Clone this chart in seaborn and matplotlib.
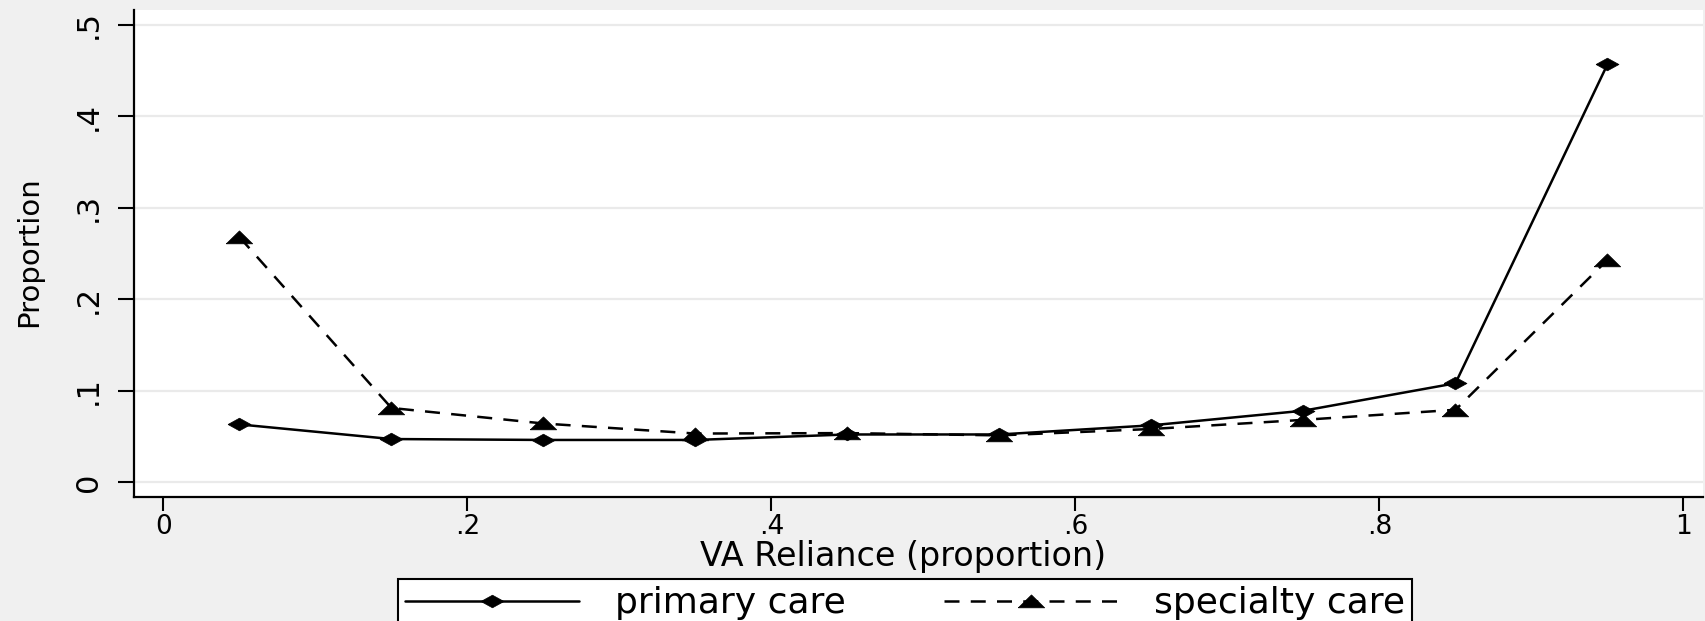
import matplotlib
matplotlib.use("Agg")
import matplotlib.pyplot as plt
import seaborn as sns
import pandas as pd

# ---- data ----
va_reliance = [0.05, 0.15, 0.25, 0.35, 0.45, 0.55, 0.65, 0.75, 0.85, 0.95]
primary_care = [0.063, 0.047, 0.046, 0.046, 0.052, 0.052, 0.062, 0.078, 0.108, 0.457]
specialty_care = [0.268, 0.081, 0.064, 0.053, 0.0535, 0.051, 0.058, 0.068, 0.079, 0.243]
series_names = ["primary care", "specialty care"]
x_ticks = [0, 0.2, 0.4, 0.6, 0.8, 1.0]
x_tick_labels = ["0", ".2", ".4", ".6", ".8", "1"]
y_ticks = [0, 0.1, 0.2, 0.3, 0.4, 0.5]
y_tick_labels = ["0", ".1", ".2", ".3", ".4", ".5"]
x_label = "VA Reliance (proportion)"
y_label = "Proportion"

sns.set_style("white")
plt.rcParams["font.family"] = ["DejaVu Sans"]
plt.rcParams["text.color"] = "black"
plt.rcParams["axes.labelcolor"] = "black"
plt.rcParams["xtick.color"] = "black"
plt.rcParams["ytick.color"] = "black"

BG = "#f0f0f0"
fig = plt.figure(figsize=(17.06, 6.21), dpi=100, facecolor=BG)
ax = fig.add_axes([0.0785, 0.1997, 0.9197, 0.7842])
ax.set_facecolor("white")

diamond = [(-1, 0), (0, 0.55), (1, 0), (0, -0.55), (-1, 0)]
triangle = [(-1, -0.48), (0, 0.5), (1, -0.48), (-1, -0.48)]

df_p = pd.DataFrame({"x": va_reliance, "y": primary_care})
df_s = pd.DataFrame({"x": va_reliance, "y": specialty_care})

sns.lineplot(data=df_p, x="x", y="y", ax=ax, color="black", linewidth=1.8,
             marker=diamond, markersize=16.5, markeredgecolor="black",
             markerfacecolor="black", markeredgewidth=0.5,
             label=series_names[0], zorder=3, legend=False)
sns.lineplot(data=df_s, x="x", y="y", ax=ax, color="black", linewidth=1.8,
             linestyle=(0, (6, 4.5)),
             marker=triangle, markersize=19, markeredgecolor="black",
             markerfacecolor="black", markeredgewidth=0.5,
             label=series_names[1], zorder=3, legend=False)

ax.set_xlim(-0.0194, 1.0128)
ax.set_ylim(-0.0164, 0.5164)

ax.set_xticks(x_ticks)
ax.set_xticklabels(x_tick_labels, fontsize=19, color="black")
ax.set_yticks(y_ticks)
ax.set_yticklabels(y_tick_labels, fontsize=22, rotation=90, va="center",
                   color="black")

ax.tick_params(axis="x", direction="out", length=10, width=1.5, pad=2,
               colors="black", bottom=True)
ax.tick_params(axis="y", direction="out", length=11.5, width=1.5, pad=11,
               colors="black", left=True)

ax.yaxis.grid(True, color="#eaeaea", linewidth=1.6)
ax.xaxis.grid(False)
ax.set_axisbelow(True)

for side in ["top", "right"]:
    ax.spines[side].set_visible(False)
for side in ["left", "bottom"]:
    ax.spines[side].set_color("black")
    ax.spines[side].set_linewidth(1.6)

ax.set_xlabel(x_label, fontsize=24, color="black")
ax.xaxis.set_label_coords(0.49, -0.088)
ax.set_ylabel(y_label, fontsize=21, color="black")
ax.yaxis.set_label_coords(-0.058, 0.503)

handles = ax.get_lines()[:2]
leg = ax.legend(handles, series_names, loc="upper left",
                bbox_to_anchor=(398 / 1706, 1 - 579 / 621),
                bbox_transform=fig.transFigure, borderaxespad=0,
                ncol=2, fontsize=26,
                frameon=True, fancybox=False, framealpha=1,
                edgecolor="black", facecolor="white",
                borderpad=0.2, handlelength=4.82, handletextpad=1.0,
                columnspacing=2.7, numpoints=1)
leg.get_frame().set_linewidth(1.5)
for t in leg.get_texts():
    t.set_color("black")

fig.savefig("out.png", dpi=100, facecolor=BG)
